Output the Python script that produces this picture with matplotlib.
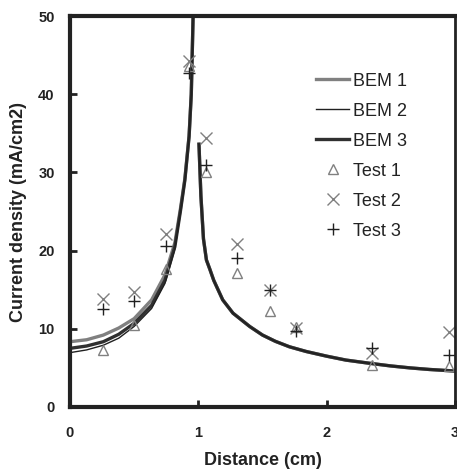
import numpy as np
import matplotlib
matplotlib.use("Agg")
import matplotlib.pyplot as plt

plt.rcParams['font.family'] = ['Liberation Sans', 'DejaVu Sans']

# BEM curves (left branch and right branch of the singularity)
left_x = [0, 0.13, 0.26, 0.38, 0.5, 0.636, 0.74, 0.817, 0.86, 0.895, 0.928, 0.945, 0.96]
bem1_left = [8.35, 8.6, 9.2, 10.1, 11.3, 13.7, 16.9, 21.0, 25.3, 29.2, 34.7, 40.0, 50.5]
bem2_left = [6.95, 7.3, 7.9, 8.8, 10.3, 12.6, 15.8, 20.2, 24.8, 28.8, 34.5, 40.0, 50.5]
bem3_left = [7.5, 7.8, 8.35, 9.3, 10.7, 13.0, 16.2, 20.5, 25.0, 29.0, 34.6, 40.0, 50.5]

right_x = [1.005, 1.02, 1.04, 1.063, 1.09, 1.12, 1.19, 1.27, 1.4, 1.5, 1.6, 1.71, 1.84,
           2.0, 2.15, 2.33, 2.5, 2.65, 2.8, 3.0]
bem1_right = [33.6, 27.0, 21.5, 18.8, 17.6, 16.2, 13.7, 12.0, 10.3, 9.2, 8.4, 7.7, 7.1,
              6.5, 6.0, 5.6, 5.25, 5.0, 4.8, 4.6]
bem2_right = [33.6, 27.0, 21.5, 18.8, 17.6, 16.2, 13.7, 12.0, 10.3, 9.2, 8.4, 7.7, 7.1,
              6.5, 6.0, 5.6, 5.25, 5.0, 4.8, 4.6]
bem3_right = [33.6, 27.0, 21.5, 18.8, 17.6, 16.2, 13.7, 12.0, 10.3, 9.2, 8.4, 7.7, 7.1,
              6.5, 6.0, 5.6, 5.25, 5.0, 4.8, 4.6]

# Test measurements
test_x = [0.26, 0.5, 0.75, 0.925, 1.06, 1.3, 1.555, 1.76, 2.35, 2.95]
test1 = [7.3, 10.5, 17.6, 43.6, 30.1, 17.1, 12.3, 10.2, 5.4, 5.2]
test2 = [13.8, 14.7, 22.1, 44.2, 34.4, 20.9, 15.0, 10.1, 6.9, 9.6]
test3 = [12.5, 13.5, 20.6, 42.7, 30.9, 19.0, 15.0, 9.7, 7.5, 6.6]

xticks = [0, 1, 2, 3]
yticks = [0, 10, 20, 30, 40, 50]

fig = plt.figure(figsize=(4.57, 4.74), dpi=100)
ax = fig.add_axes([70/457, 1-407/474, 385/457, 391/474])

gray = '#808080'
dark = '#303030'

l1, = ax.plot(left_x, bem1_left, color=gray, lw=2.4, label='BEM 1')
ax.plot(right_x, bem1_right, color=gray, lw=2.4)
l3, = ax.plot(left_x, bem3_left, color=dark, lw=2.4, label='BEM 3')
ax.plot(right_x, bem3_right, color=dark, lw=2.4)
l2, = ax.plot(left_x, bem2_left, color='#202020', lw=1.0, label='BEM 2')
ax.plot(right_x, bem2_right, color='#202020', lw=1.0)

m1, = ax.plot(test_x, test1, ls='none', marker='^', ms=7, mfc='none', mec=gray, mew=1.0, label='Test 1')
m2, = ax.plot(test_x, test2, ls='none', marker='x', ms=8, color=gray, mew=1.0, label='Test 2')
m3, = ax.plot(test_x, test3, ls='none', marker='+', ms=8, color='#202020', mew=1.0, label='Test 3')

ax.set_xlim(0, 3)
ax.set_ylim(0, 50)
ax.set_xticks(xticks)
ax.set_yticks(yticks)
ax.tick_params(direction='in', length=5, width=2, colors='#222222')
ax.tick_params(axis='x', pad=14)
ax.tick_params(axis='y', pad=11)
for lab in ax.get_xticklabels() + ax.get_yticklabels():
    lab.set_fontweight('bold')
    lab.set_fontsize(10.5)
    lab.set_color('#222222')

for s in ['left', 'bottom', 'top']:
    ax.spines[s].set_linewidth(3)
    ax.spines[s].set_color('#222222')
ax.spines['right'].set_linewidth(2)
ax.spines['right'].set_color('#222222')

ax.set_xlabel('Distance (cm)', fontsize=13, fontweight='bold', labelpad=8, color='#222222')
ax.set_ylabel('Current density (mA/cm2)', fontsize=13, fontweight='bold', labelpad=8, color='#222222')

leg = ax.legend(handles=[l1, l2, l3, m1, m2, m3], loc='upper left',
                bbox_to_anchor=(0.64, 0.855), frameon=False, fontsize=13,
                handlelength=1.8, handletextpad=0.25, labelspacing=0.72,
                borderpad=0, borderaxespad=0)
for t in leg.get_texts():
    t.set_color('#222222')

fig.savefig('out.png', dpi=100)
